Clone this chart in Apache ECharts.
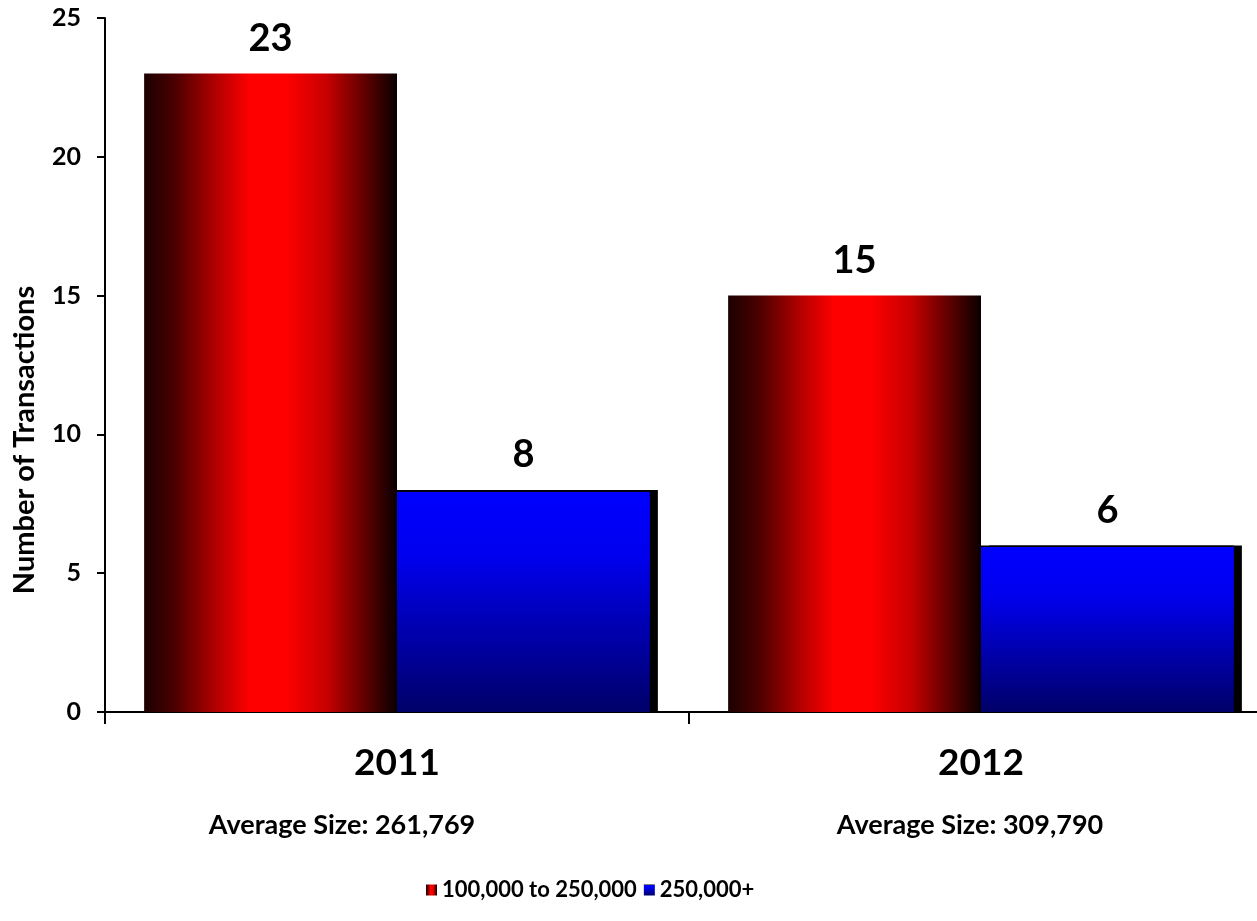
<!DOCTYPE html>
<html>
<head>
<meta charset="utf-8">
<script src="https://cdn.jsdelivr.net/npm/echarts@6/dist/echarts.min.js"></script>
<style>
  html, body { margin: 0; padding: 0; background: #ffffff; }
  #chart { width: 1257px; height: 921px; }
</style>
</head>
<body>
<div id="chart"></div>
<script>
// Transactions per year, split by deal size
const years = ['2011', '2012'];
const averageSizes = ['261,769', '309,790'];
const seriesNames = ['100,000 to 250,000', '250,000+'];
const midSizeCounts = [23, 15];
const largeSizeCounts = [8, 6];
const yTicks = { min: 0, max: 25, interval: 5 };

const FONT = 'Lato';
// extra right padding on the "Average Size" line, nudging it left of the year
const avgLinePadRight = [110, 22];

// Cylinder-like horizontal shading for the red bars
const redShade = new echarts.graphic.LinearGradient(0, 0, 1, 0, [
  { offset: 0, color: '#1c0000' },
  { offset: 0.12, color: '#4a0000' },
  { offset: 0.28, color: '#b00000' },
  { offset: 0.42, color: '#ff0000' },
  { offset: 0.56, color: '#ff0000' },
  { offset: 0.72, color: '#c80000' },
  { offset: 0.88, color: '#5a0000' },
  { offset: 1, color: '#0a0000' }
]);

// Vertical fade for the blue bars, with a thin dark top edge
const blueShade = new echarts.graphic.LinearGradient(0, 0, 0, 1, [
  { offset: 0, color: '#000000' },
  { offset: 0.007, color: '#000000' },
  { offset: 0.009, color: '#0000ff' },
  { offset: 0.3, color: '#0000ee' },
  { offset: 1, color: '#000068' }
]);

const valueLabel = {
  show: true,
  position: 'top',
  distance: 16,
  color: '#000',
  fontFamily: FONT,
  fontWeight: 'bold',
  fontSize: 38
};

const avgStyle = (padRight) => ({
  fontFamily: FONT, fontWeight: 'bold', fontSize: 27, lineHeight: 64, color: '#000',
  padding: [0, padRight, 0, 0]
});

const chart = echarts.init(document.getElementById('chart'), null, { renderer: 'canvas' });

chart.setOption({
  animation: false,
  backgroundColor: '#ffffff',
  textStyle: { fontFamily: FONT },
  grid: { left: 105, top: 18, width: 1168, height: 694, containLabel: false, outerBoundsMode: 'none' },
  legend: {
    top: 874,
    left: 421,
    itemWidth: 11,
    itemHeight: 11,
    itemGap: 7,
    icon: 'rect',
    textStyle: { fontFamily: FONT, fontWeight: 'bold', fontSize: 22, color: '#000' },
    data: seriesNames
  },
  xAxis: {
    type: 'category',
    data: years,
    axisLine: { lineStyle: { color: '#000', width: 2 } },
    axisTick: { show: true, length: 12, lineStyle: { color: '#000', width: 2 } },
    axisLabel: {
      margin: 21,
      interval: 0,
      formatter: function (v, i) {
        return '{y|' + v + '}\n{s' + i + '|Average Size: ' + averageSizes[i] + '}';
      },
      rich: {
        y: { fontFamily: FONT, fontWeight: 'bold', fontSize: 37, lineHeight: 60, color: '#000' },
        s0: avgStyle(avgLinePadRight[0]),
        s1: avgStyle(avgLinePadRight[1])
      }
    }
  },
  yAxis: {
    type: 'value',
    min: yTicks.min,
    max: yTicks.max,
    interval: yTicks.interval,
    splitLine: { show: false },
    axisLine: { show: true, lineStyle: { color: '#000', width: 2 } },
    axisTick: { show: true, length: 8, lineStyle: { color: '#000', width: 2 } },
    axisLabel: { margin: 24, color: '#000', fontFamily: FONT, fontWeight: 'bold', fontSize: 25 }
  },
  graphic: [{
    type: 'text',
    x: 25,
    y: 440,
    rotation: Math.PI / 2,
    style: {
      text: 'Number of Transactions',
      fontFamily: FONT,
      fontWeight: 'bold',
      fontSize: 29,
      fill: '#000',
      align: 'center',
      verticalAlign: 'middle'
    }
  }],
  series: [
    {
      name: seriesNames[0],
      type: 'bar',
      data: midSizeCounts,
      barGap: '0%',
      barCategoryGap: '13.4%',
      itemStyle: { color: redShade },
      label: valueLabel
    },
    {
      name: seriesNames[1],
      type: 'bar',
      data: largeSizeCounts,
      barGap: '0%',
      barCategoryGap: '13.4%',
      itemStyle: {
        color: blueShade,
        shadowColor: 'rgba(0,0,0,1)',
        shadowBlur: 0,
        shadowOffsetX: 8,
        shadowOffsetY: 0
      },
      label: valueLabel
    }
  ]
});
</script>
</body>
</html>
